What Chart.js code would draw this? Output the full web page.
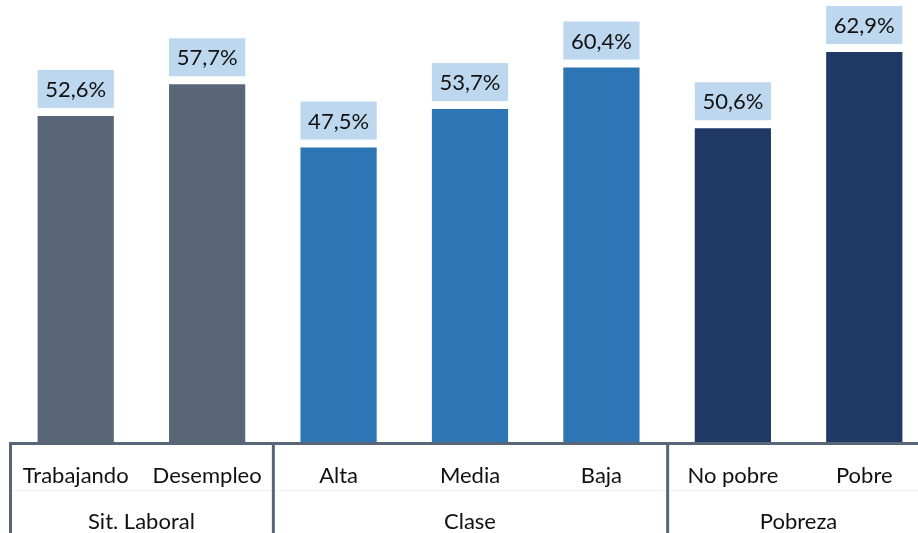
<!DOCTYPE html>
<html>
<head>
<meta charset="utf-8">
<script src="https://cdn.jsdelivr.net/npm/chart.js@4"></script>
<style>
html, body { margin: 0; padding: 0; overflow: hidden; background: #fff; }
#wrap { width: 932px; height: 533px; }
</style>
</head>
<body>
<div id="wrap"><canvas id="chart" width="932" height="533"></canvas></div>
<script>
// DATA

var categories = ['Trabajando', 'Desempleo', 'Alta', 'Media', 'Baja', 'No pobre', 'Pobre'];
var values = [52.6, 57.7, 47.5, 53.7, 60.4, 50.6, 62.9];
var groups = ['Sit. Laboral', 'Clase', 'Pobreza'];
var groupSizes = [2, 3, 2];
var groupColors = ['#596678', '#2E75B6', '#203864'];

// one colour per bar, taken from its group
var barColors = [];
groupSizes.forEach(function (n, g) {
    for (var i = 0; i < n; i++) barColors.push(groupColors[g]);
});

function fmt(v) {
    return v.toFixed(1).replace('.', ',') + '%';
}

// EXTRAS: value boxes, axis, group separators and labels

var extras = {
    id: 'extras',
    afterDraw: function (chart) {
        var ctx = chart.ctx;
        var area = chart.chartArea;
        var xs = chart.scales.x;
        var meta = chart.getDatasetMeta(0);
        var H = chart.height;

        ctx.save();

        // value boxes
        ctx.font = '22px Lato';
        ctx.textAlign = 'center';
        ctx.textBaseline = 'middle';
        meta.data.forEach(function (bar, i) {
            var w = bar.width;
            var top = bar.y - 8 - 38;
            ctx.fillStyle = '#BDD7EE';
            ctx.fillRect(bar.x - w / 2, top, w, 38);
            ctx.fillStyle = '#111';
            ctx.fillText(fmt(values[i]), bar.x, top + 20);
        });

        // faint line between rows
        ctx.fillStyle = '#f1f1f1';
        ctx.fillRect(area.left, 490, area.right - area.left, 1);

        // axis line
        ctx.fillStyle = '#596678';
        ctx.fillRect(area.left, area.bottom, area.right - area.left, 3);

        // separators
        var step = xs.getPixelForValue(1) - xs.getPixelForValue(0);
        var idx = 0;
        var bounds = [0];
        groupSizes.forEach(function (n) { idx += n; bounds.push(idx); });
        bounds.slice(0, -1).forEach(function (b) {
            var x = xs.getPixelForValue(b) - step / 2;
            ctx.fillRect(x - 1, area.bottom, 3, H - area.bottom);
        });

        // category labels
        ctx.fillStyle = '#111';
        ctx.font = '22px Lato';
        categories.forEach(function (c, i) {
            ctx.fillText(c, xs.getPixelForValue(i), 476);
        });

        // group labels
        groups.forEach(function (g, k) {
            var a = xs.getPixelForValue(bounds[k]) - step / 2;
            var b = xs.getPixelForValue(bounds[k + 1]) - step / 2;
            ctx.fillText(g, (a + b) / 2, 522);
        });

        ctx.restore();
    }
};

// CHART

var chart = new Chart(document.getElementById('chart'), {
    type: 'bar',
    data: {
        labels: categories,
        datasets: [{
            data: values,
            backgroundColor: barColors,
            borderWidth: 0,
            categoryPercentage: 1,
            barPercentage: 0.58
        }]
    },
    options: {
        responsive: false,
        animation: false,
        layout: { padding: { left: 10, right: 2, top: 8, bottom: 91 } },
        plugins: {
            legend: { display: false },
            tooltip: { enabled: false }
        },
        scales: {
            x: { display: false },
            y: { display: false, min: 0, max: 70 }
        }
    },
    plugins: [extras]
});
</script>
</body>
</html>
